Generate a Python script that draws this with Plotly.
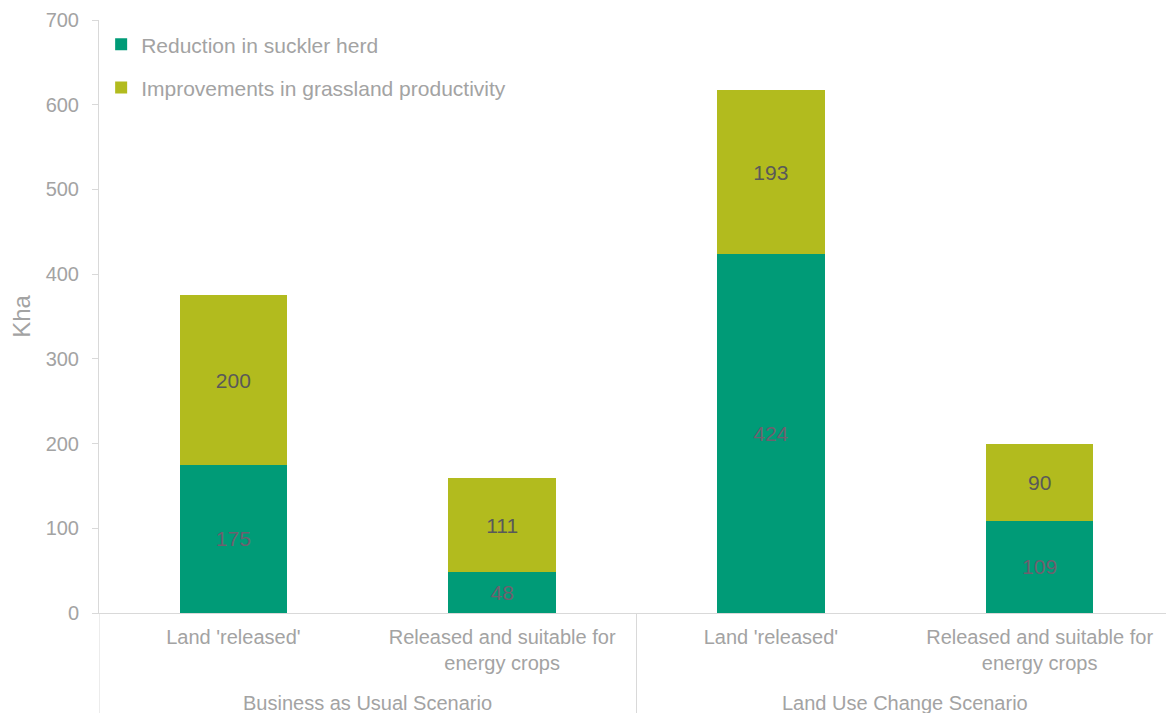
import plotly.graph_objects as go

groups = ["Business as Usual Scenario", "Land Use Change Scenario"]
categories = ["Land 'released'", "Released and suitable for<br>energy crops",
              "Land 'released'", "Released and suitable for<br>energy crops"]
suckler = [175, 48, 424, 109]
grassland = [200, 111, 193, 90]

GREEN = "#009B77"
OLIVE = "#B2BB1E"
GRAY = "#A3A3A3"
LINE = "#D9D9D9"
FONT = "Liberation Sans, Arial, sans-serif"

idx = list(range(len(categories)))
per_group = len(categories) // len(groups)

fig = go.Figure()
fig.add_trace(go.Bar(
    x=idx, y=suckler, name="Reduction in suckler herd",
    marker=dict(color=GREEN, line=dict(width=0)),
    text=suckler, textposition="inside", insidetextanchor="middle",
    textfont=dict(color="#6E5F6E", size=21, family=FONT),
    legendgroup="a",
))
fig.add_trace(go.Bar(
    x=idx, y=grassland, name="Improvements in grassland productivity",
    marker=dict(color=OLIVE, line=dict(width=0)),
    text=grassland, textposition="inside", insidetextanchor="middle",
    textfont=dict(color="#595959", size=21, family=FONT),
    legendgroup="b",
))

# group dividers (category boundaries) and group labels below the axis
bottom = -100 / 593
for g in range(len(groups) + 1):
    xb = g * per_group - 0.5
    fig.add_shape(type="line", xref="x", yref="paper", x0=xb, x1=xb,
                  y0=0, y1=bottom, line=dict(color=LINE, width=1))
for g, name in enumerate(groups):
    fig.add_annotation(x=g * per_group + (per_group - 1) / 2, xref="x",
                       y=-90 / 593, yref="paper", yanchor="middle",
                       text=name, showarrow=False,
                       font=dict(size=20, color=GRAY, family=FONT))

fig.update_layout(
    barmode="stack",
    bargap=0.6,
    width=1166, height=705,
    margin=dict(l=91, r=0, t=12, b=100, autoexpand=False),
    paper_bgcolor="white", plot_bgcolor="white",
    font=dict(family=FONT, size=21, color=GRAY),
    showlegend=True,
    legend=dict(x=0.002, y=0.993, xanchor="left", yanchor="top",
                font=dict(size=21, color=GRAY), tracegroupgap=13,
                itemwidth=30, bgcolor="rgba(0,0,0,0)"),
    uniformtext=dict(mode=False),
)
fig.update_yaxes(
    range=[0, 700], dtick=100, showgrid=False, zeroline=False,
    showline=True, linecolor=LINE, linewidth=1,
    ticks="outside", ticklen=6, tickcolor=LINE,
    tickfont=dict(size=20, color=GRAY), ticklabelstandoff=9,
    title=dict(text="Kha", font=dict(size=24, color=GRAY), standoff=10),
)
fig.update_xaxes(
    range=[-0.5, len(categories) - 0.5],
    tickmode="array", tickvals=idx, ticktext=categories,
    showgrid=False, zeroline=False,
    showline=True, linecolor=LINE, linewidth=1,
    tickfont=dict(size=20, color=GRAY), ticklabelstandoff=6,
)

fig.write_html("out.html")
